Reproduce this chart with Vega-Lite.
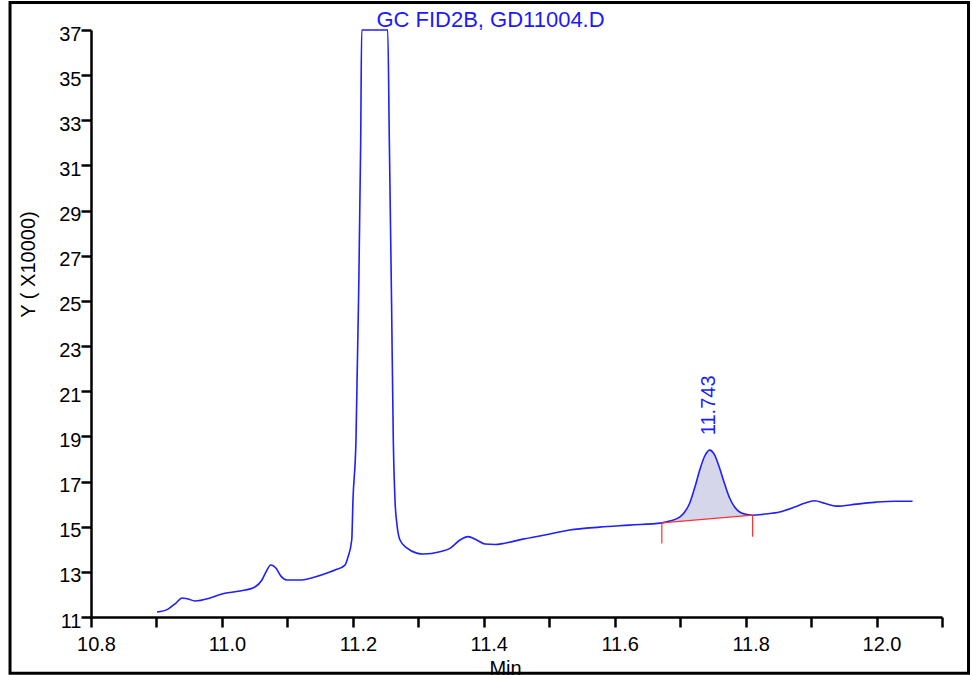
{
  "$schema": "https://vega.github.io/schema/vega-lite/v6.json",
  "autosize": {"type": "none"},
  "width": 851,
  "height": 587,
  "padding": {"left": 91, "top": 30, "right": 30, "bottom": 58},
  "background": "white",
  "config": {
    "view": {"stroke": null},
    "font": "Liberation Sans"
  },
  "title": {
    "text": "GC FID2B, GD11004.D",
    "color": "#1a1aff",
    "fontSize": 22,
    "fontWeight": "normal",
    "font": "Liberation Sans",
    "anchor": "middle",
    "frame": "group",
    "baseline": "bottom",
    "offset": -53,
    "dx": -26
  },
  "datasets": {
    "trace": [
      {"t": 10.9008, "y": 11.22},
      {"t": 10.9176, "y": 11.35},
      {"t": 10.9298, "y": 11.62},
      {"t": 10.9389, "y": 11.84},
      {"t": 10.948, "y": 11.8},
      {"t": 10.9588, "y": 11.71},
      {"t": 10.9817, "y": 11.84},
      {"t": 11.0, "y": 12.02},
      {"t": 11.0275, "y": 12.15},
      {"t": 11.0504, "y": 12.33},
      {"t": 11.0611, "y": 12.64},
      {"t": 11.0672, "y": 12.99},
      {"t": 11.0748, "y": 13.3},
      {"t": 11.0824, "y": 13.17},
      {"t": 11.0901, "y": 12.81},
      {"t": 11.0992, "y": 12.64},
      {"t": 11.1191, "y": 12.64},
      {"t": 11.142, "y": 12.77},
      {"t": 11.1649, "y": 12.99},
      {"t": 11.1727, "y": 13.08},
      {"t": 11.188, "y": 13.3},
      {"t": 11.1926, "y": 13.66},
      {"t": 11.1983, "y": 14.41},
      {"t": 11.2002, "y": 16.18},
      {"t": 11.2048, "y": 18.84},
      {"t": 11.2087, "y": 25.04},
      {"t": 11.212, "y": 32.13},
      {"t": 11.2135, "y": 37},
      {"t": 11.2533, "y": 37},
      {"t": 11.2557, "y": 32.13},
      {"t": 11.2591, "y": 25.04},
      {"t": 11.2618, "y": 18.84},
      {"t": 11.2644, "y": 16.18},
      {"t": 11.2675, "y": 15.07},
      {"t": 11.272, "y": 14.41},
      {"t": 11.2823, "y": 14.06},
      {"t": 11.2976, "y": 13.83},
      {"t": 11.3076, "y": 13.79},
      {"t": 11.3331, "y": 13.89},
      {"t": 11.3484, "y": 14.04},
      {"t": 11.3637, "y": 14.41},
      {"t": 11.3755, "y": 14.56},
      {"t": 11.3892, "y": 14.41},
      {"t": 11.4019, "y": 14.23},
      {"t": 11.4172, "y": 14.21},
      {"t": 11.432, "y": 14.27},
      {"t": 11.4595, "y": 14.45},
      {"t": 11.4931, "y": 14.63},
      {"t": 11.5313, "y": 14.85},
      {"t": 11.5771, "y": 14.98},
      {"t": 11.6229, "y": 15.07},
      {"t": 11.672, "y": 15.17, "base": 15.17},
      {"t": 11.684, "y": 15.25, "base": 15.199},
      {"t": 11.6992, "y": 15.42, "base": 15.237},
      {"t": 11.7069, "y": 15.65, "base": 15.256},
      {"t": 11.7145, "y": 16.04, "base": 15.274},
      {"t": 11.7221, "y": 16.71, "base": 15.293},
      {"t": 11.7298, "y": 17.5, "base": 15.312},
      {"t": 11.7374, "y": 18.12, "base": 15.33},
      {"t": 11.745, "y": 18.39, "base": 15.349},
      {"t": 11.7527, "y": 18.17, "base": 15.368},
      {"t": 11.7603, "y": 17.59, "base": 15.386},
      {"t": 11.768, "y": 16.89, "base": 15.405},
      {"t": 11.7756, "y": 16.27, "base": 15.424},
      {"t": 11.7832, "y": 15.87, "base": 15.442},
      {"t": 11.7908, "y": 15.65, "base": 15.461},
      {"t": 11.7985, "y": 15.56, "base": 15.48},
      {"t": 11.8107, "y": 15.51, "base": 15.51},
      {"t": 11.829, "y": 15.56},
      {"t": 11.8519, "y": 15.65},
      {"t": 11.8748, "y": 15.87},
      {"t": 11.89, "y": 16.04},
      {"t": 11.9053, "y": 16.15},
      {"t": 11.9206, "y": 16.04},
      {"t": 11.9389, "y": 15.91},
      {"t": 11.9695, "y": 16.0},
      {"t": 12.0, "y": 16.09},
      {"t": 12.0275, "y": 16.13},
      {"t": 12.055, "y": 16.13}
    ],
    "integration": [
      {"t": 11.672, "y": 15.17, "t2": 11.8107, "y2": 15.51},
      {"t": 11.672, "y": 15.17, "t2": 11.672, "y2": 14.26},
      {"t": 11.8107, "y": 15.51, "t2": 11.8107, "y2": 14.55}
    ],
    "peaks": [
      {"t": 11.743, "y": 18.39, "label": "11.743"}
    ]
  },
  "layer": [
    {
      "data": {"values": [{}]},
      "mark": {"type": "rect", "fill": null, "stroke": "black", "strokeWidth": 3, "clip": false},
      "encoding": {
        "x": {"datum": 10.6763, "type": "quantitative", "scale": {"domain": [10.8, 12.1], "nice": false, "zero": false},
          "axis": {
            "title": "Min",
            "values": [10.8, 10.9, 11.0, 11.1, 11.2, 11.3, 11.4, 11.5, 11.6, 11.7, 11.8, 11.9, 12.0, 12.1],
            "labelExpr": "abs(round(datum.value * 10)) % 2 == 0 ? format(datum.value, '.1f') : ''",
            "grid": false,
            "domainColor": "black",
            "domainWidth": 2.5,
            "tickColor": "black",
            "tickWidth": 2.5,
            "tickSize": 10,
            "labelFont": "Liberation Sans",
            "labelFontSize": 20,
            "labelColor": "black",
            "labelPadding": 7,
            "labelOffset": 5,
            "labelOverlap": false,
            "labelFlush": false,
            "titleFont": "Liberation Sans",
            "titleFontSize": 20,
            "titleFontWeight": "normal",
            "titleColor": "black",
            "titleBaseline": "top",
            "titleAlign": "center",
            "titleX": 414,
            "titleY": 41
          }
        },
        "x2": {"datum": 12.1405},
        "y": {"datum": 38.22, "type": "quantitative", "scale": {"domain": [11, 37], "nice": false, "zero": false},
          "axis": {
            "title": "Y ( X10000)",
            "values": [11, 13, 15, 17, 19, 21, 23, 25, 27, 29, 31, 33, 35, 37],
            "grid": false,
            "domainColor": "black",
            "domainWidth": 2.5,
            "tickColor": "black",
            "tickWidth": 2.5,
            "tickSize": 10,
            "labelFont": "Liberation Sans",
            "labelFontSize": 20,
            "labelColor": "black",
            "labelPadding": 0,
            "labelOffset": 4,
            "labelOverlap": false,
            "labelFlush": false,
            "titleFont": "Liberation Sans",
            "titleFontSize": 20,
            "titleFontWeight": "normal",
            "titleColor": "black",
            "titleAngle": -90,
            "titleAlign": "center",
            "titleBaseline": "middle",
            "titleX": -63,
            "titleY": 234
          }
        },
        "y2": {"datum": 8.506}
      }
    },
    {
      "data": {"name": "trace"},
      "transform": [{"filter": "isValid(datum.base)"}],
      "mark": {"type": "area", "fill": "#000080", "fillOpacity": 0.16, "interpolate": "monotone"},
      "encoding": {
        "x": {"field": "t", "type": "quantitative"},
        "y": {"field": "y", "type": "quantitative"},
        "y2": {"field": "base"}
      }
    },
    {
      "data": {"name": "trace"},
      "mark": {"type": "line", "color": "#1f1fff", "strokeWidth": 1.6, "interpolate": "monotone"},
      "encoding": {
        "x": {"field": "t", "type": "quantitative"},
        "y": {"field": "y", "type": "quantitative"}
      }
    },
    {
      "data": {"name": "integration"},
      "mark": {"type": "rule", "color": "#ff3030", "strokeWidth": 1.2},
      "encoding": {
        "x": {"field": "t", "type": "quantitative"},
        "y": {"field": "y", "type": "quantitative"},
        "x2": {"field": "t2"},
        "y2": {"field": "y2"}
      }
    },
    {
      "data": {"name": "peaks"},
      "mark": {"type": "text", "angle": 270, "align": "left", "baseline": "middle", "dx": 15, "dy": 1, "fontSize": 20, "font": "Liberation Sans", "color": "#1a1aff"},
      "encoding": {
        "x": {"field": "t", "type": "quantitative"},
        "y": {"field": "y", "type": "quantitative"},
        "text": {"field": "label"}
      }
    }
  ]
}
